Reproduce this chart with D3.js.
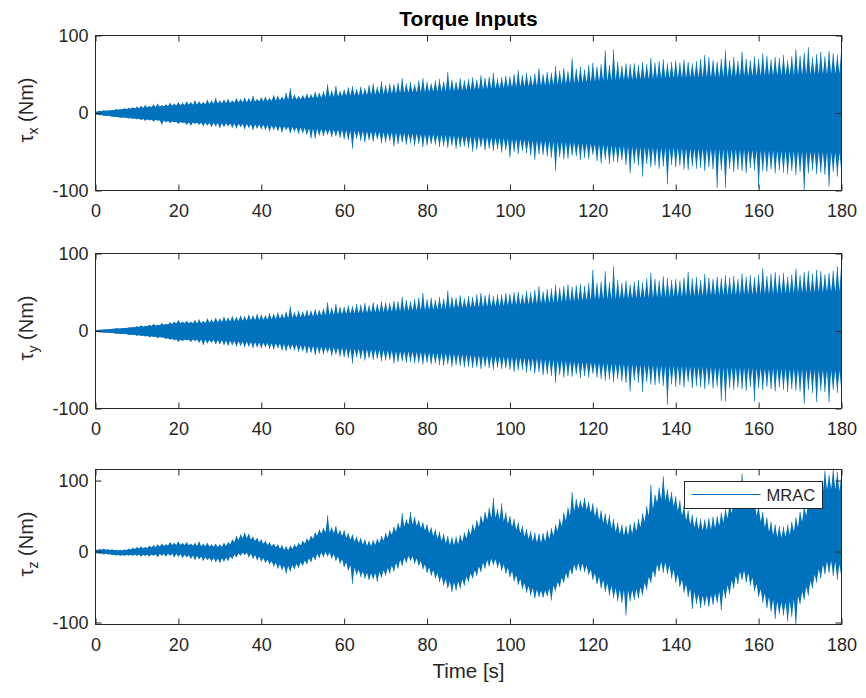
<!DOCTYPE html>
<html>
<head>
<meta charset="utf-8">
<title>Torque Inputs</title>
<script src="https://cdn.jsdelivr.net/npm/d3@7/dist/d3.min.js"></script>
<style>
  html, body { margin: 0; padding: 0; background: #ffffff; }
  svg { display: block; font-family: "Liberation Sans", Arial, Helvetica, sans-serif; }
</style>
</head>
<body>
<svg id="chart" width="866" height="698"></svg>
<script>
// Axis ticks: time in seconds, torque in Nm
const xTickValues = [0, 20, 40, 60, 80, 100, 120, 140, 160, 180];
const yTickValues = [-100, 0, 100];

// Sampling instants: one max/min pair per second, dense core band every 5 s (x, y) or 2 s (z)
const peakTimes = d3.range(0, 181, 1);
const coreTimesXY = d3.range(0, 181, 5);
const coreTimesZ = d3.range(0, 181, 2);

// tau_x: per-second extremes (Nm)
const tauXHigh = [
  2, 3, 3.5, 3, 4, 5, 5, 6, 6.5, 7,
  8, 9, 10, 9, 11, 12, 10, 11, 13, 12,
  14, 13, 15, 14, 16, 15, 14, 17, 16, 19.5,
  16, 17, 18, 16, 19, 18, 20, 19, 22, 18,
  20, 21, 19, 23, 22, 21, 26, 32, 24, 22,
  23, 25, 24, 27, 26, 28, 37, 29, 35, 28,
  30, 33, 35, 31, 34, 32, 36, 38, 34, 41,
  36, 38, 37, 39, 45, 38, 40, 37, 42, 45,
  40, 38, 42, 44, 41, 53, 43, 40, 45, 42,
  44, 46, 43, 48.5, 45, 47, 52, 44, 46, 48,
  47, 50, 55, 49, 52, 48, 51, 57.6, 50, 53,
  52, 60.6, 55, 58, 54, 70.6, 57, 60, 56, 62,
  65, 60, 63, 81, 62, 82, 66, 61, 64, 63,
  64, 62, 66, 63, 71, 65, 67, 69, 64, 66,
  68, 65, 69, 66, 64, 67, 70, 75, 72, 68,
  66, 70, 81, 68, 72, 67, 79, 70, 68, 73,
  70, 77, 74, 69, 72, 71, 75, 68, 73, 82,
  74, 78, 85, 72, 76, 79, 73, 80, 77, 75,
  86
];
const tauXLow = [
  -2, -3, -3.5, -4, -4.5, -5, -6, -5.5, -7, -7.5,
  -8, -9, -10, -9.5, -11, -10, -15, -12, -13, -12,
  -14, -13, -15, -16, -14, -15, -17, -16, -18, -17,
  -19.5, -18, -17, -19, -20, -18, -21, -19, -22, -20,
  -21, -22, -24, -22, -23, -25, -22, -26, -24, -27,
  -26, -28, -33, -33, -29, -30, -28, -31, -30, -32,
  -34, -35, -46, -33, -36, -38, -35, -37, -34, -39,
  -38, -36, -43, -40, -38, -41, -39, -42, -40, -44,
  -42, -40, -41, -44, -43, -45, -42, -46, -44, -43,
  -45, -50, -47, -44, -48, -46, -49, -47, -51, -48,
  -57.6, -50, -53, -49, -52, -55, -60.6, -53, -54, -56,
  -58, -75, -57, -60, -59, -55, -56, -61, -58, -60,
  -54, -62, -65, -60, -66, -63, -64, -61, -67, -78,
  -65, -68, -82, -66, -70, -68, -72, -69, -92, -67,
  -70, -68, -73, -74, -69, -72, -71, -75, -70, -73,
  -96.5, -74, -96.5, -72, -76, -73, -75, -78, -71, -74,
  -96, -75, -76, -73, -78, -74, -77, -79, -75, -80,
  -76, -100, -78, -74, -79, -77, -80, -95, -76, -82,
  -78
];
// tau_x: dense core band (Nm), every 5 s
const tauXCoreHigh = [1.5, 4, 6, 8, 10, 11, 12.5, 13.5, 15, 16.5, 18, 20, 22, 23, 24.5, 26, 27, 28, 29.5,
  31, 33, 34.5, 36, 38, 40, 42, 43, 44, 45, 45.5, 46, 47, 48, 48.5, 49, 50, 51];
const tauXCoreLow = [-1.5, -5, -7, -9, -11.5, -12.5, -13, -14, -15, -17, -19, -21, -22, -23.5, -25, -26, -27.5, -28.5, -30,
  -31.5, -33, -35, -36.5, -38, -40, -42, -43.5, -44.5, -45, -46, -46.5, -47, -48, -49, -49.5, -50, -51];

// tau_y: per-second extremes (Nm)
const tauYHigh = [
  1, 1.5, 1.5, 2, 3, 3.5, 3, 4, 4.5, 5,
  6, 7, 6.5, 8, 9, 8, 10, 9, 11, 12,
  14, 12, 13, 12, 14, 15, 13, 16, 15, 17,
  16, 18, 17, 19, 18, 20, 19, 21, 20, 22,
  21, 20, 23, 22, 24, 22, 25, 32, 24, 26,
  25, 27, 26, 28, 27, 29, 37, 30, 35, 31,
  31, 33, 32, 35, 34, 36, 33, 37, 35, 38,
  37, 36, 39, 38, 44, 40, 38, 41, 43, 49,
  41, 43, 40, 44, 42, 52, 44, 43, 46, 42,
  45, 44, 47, 49, 46, 48, 45, 47, 47, 49,
  48, 50, 51, 47, 52, 50, 53, 57.6, 51, 54,
  55, 60, 56, 58, 60, 57, 59, 61, 58, 62,
  79, 62, 64, 77, 63, 83.5, 66, 62, 65, 60,
  64, 66, 63, 68, 75, 67, 65, 70.6, 68, 66,
  67, 65, 69, 76, 68, 70, 66, 73.6, 69, 67,
  70, 68, 72, 69, 71, 67, 74, 70, 72, 69,
  73, 81, 71, 74, 76, 72, 75, 70, 73, 80.5,
  72, 76, 78, 74, 79, 77, 73, 75, 78, 83.5,
  92
];
const tauYLow = [
  -1, -1.5, -2, -2, -2.5, -3.5, -4, -4, -5, -5,
  -6, -6.5, -7, -8, -7.5, -9, -8, -10, -11, -12,
  -14, -13, -12, -14, -13, -15, -18, -16, -15, -17,
  -17, -18, -19, -18, -20, -19, -21, -20, -22, -21,
  -22, -21, -23, -24, -22, -25, -26, -24, -25, -27,
  -26, -29, -28, -31, -29, -30, -28, -32, -30, -33,
  -34, -35, -42, -34, -36, -38, -35, -37, -36, -39,
  -38, -37, -42, -40, -39, -41, -40, -42, -41, -43,
  -41, -43, -42, -44, -45, -43, -46, -44, -45, -47,
  -46, -48, -47, -49, -46, -48, -50, -47, -49, -48,
  -50, -53, -51, -50, -54, -52, -55, -53, -57, -56,
  -58, -67, -57, -60, -58, -59, -56, -61, -58, -60,
  -55, -60, -62, -64, -63, -66, -62, -65, -67, -78,
  -64, -67, -79, -66, -69, -70, -68, -71, -95, -69,
  -72, -70, -73, -66, -74, -71, -73, -75, -70, -74,
  -72, -90, -91, -74, -76, -73, -75, -77, -72, -91,
  -74, -76, -72, -75, -78, -73, -76, -79, -75, -77,
  -78, -94, -76, -80, -92, -77, -79, -92, -76, -80,
  -78
];
// tau_y: dense core band (Nm), every 5 s
const tauYCoreHigh = [1, 3, 5, 7, 10, 10, 11.5, 13, 14.5, 16, 18, 20, 22, 23, 24.5, 26, 27, 28.5, 30,
  31, 33, 34.5, 36, 38, 40, 41, 42, 43, 44, 45, 46, 46.5, 47, 48, 49, 50, 51];
const tauYCoreLow = [-1, -3, -5, -7.5, -11, -11, -12, -13.5, -15, -16.5, -18.5, -20.5, -22, -23.5, -25, -26.5, -27.5, -29, -30.5,
  -32, -33.5, -35, -37, -39, -41, -42, -43, -44, -45, -46, -46.5, -47, -48, -48.5, -49, -50, -51];

// tau_z: per-second extremes (Nm)
const tauZHigh = [
  3, 3.5, 4, 3, 3, 2.5, 2, 3, 4, 5,
  6, 7, 6.5, 8, 9, 10, 11, 10, 13, 12,
  14, 12, 13, 11, 12, 14, 11, 12, 10, 11,
  10, 12, 13, 17, 22, 24, 27, 25, 21, 19,
  17, 15, 13, 11, 10, 9, 7, 8, 10, 12,
  15, 18, 22, 27, 31, 33, 51, 34, 36, 30,
  30, 26, 24, 21, 19, 17, 15, 16, 18, 22,
  26, 30, 35, 40, 54, 45, 56, 49, 44, 41,
  38, 34, 31, 28, 25, 22, 20, 21, 23, 27,
  32, 38, 44, 50, 56, 62, 76, 60, 68, 55,
  50, 46, 41, 36, 32, 29, 27, 25, 26, 30,
  33, 38, 46, 55, 62, 84, 74, 72, 76, 70,
  68, 62, 58, 54, 52, 46, 41, 38, 36, 39,
  42, 46, 54, 64, 94, 80, 90, 106, 88, 84,
  78, 72, 64, 58, 52, 48, 46, 45, 47, 49,
  50, 55, 60, 68, 75, 82, 110, 86, 80, 72,
  64, 56, 48, 42, 38, 36, 35, 38, 42, 48,
  56, 64, 72, 82, 92, 100, 114, 108, 115.6, 112,
  110
];
const tauZLow = [
  -3, -3.5, -4, -4, -5, -5.5, -6, -6, -5.5, -6,
  -6, -7, -6, -7, -6, -8, -6, -7, -6, -8,
  -7, -9, -8, -10, -12, -11, -13, -12, -14, -15,
  -16, -14, -13, -10, -8, -6, -5, -8, -10, -12,
  -14, -16, -18, -21, -24, -26, -31, -28, -25, -23,
  -20, -18, -15, -12, -9, -8, -7, -10, -13, -17,
  -22, -27, -46, -33, -36, -38, -40, -39, -43, -37,
  -34, -31, -28, -24, -20, -16, -13, -17, -20, -25,
  -30, -34, -38, -43, -48, -52, -57, -55, -52, -48,
  -43, -38, -34, -29, -24, -21, -19, -23, -27, -31,
  -36, -42, -47, -53, -58, -62, -66, -64, -65, -63,
  -69, -56, -50, -44, -38, -32, -27, -28, -29, -33,
  -40, -46, -52, -57, -62, -66, -70, -72, -90, -70,
  -68, -66, -62, -54, -44, -36, -28, -30, -32, -38,
  -44, -50, -58, -64, -81, -74, -80, -76, -78, -75,
  -72, -83, -66, -60, -52, -46, -40, -44, -48, -56,
  -64, -72, -80, -85, -95, -88, -90, -98.6, -92, -102.8,
  -74, -68, -62, -52, -44, -38, -32, -30, -34, -40,
  -38
];
// tau_z: dense core band (Nm), every 2 s
const tauZCoreHigh = [
  2, 2.5, 2, 1, 2.5, 4, 4.5, 6, 7.5, 9, 9.5, 9, 8, 7.5, 7, 6, 8.5, 15, 20, 16,
  12, 8.5, 5, 1, 4.5, 10, 16, 24, 28, 25, 21, 15, 11, 7, 10, 17, 26, 34, 39, 35,
  28, 20, 13, 8, 11, 21, 32, 43, 49, 44, 37, 28, 19, 13, 12, 19, 32, 47, 60, 61,
  52, 42, 35, 25, 22, 26, 37, 55, 74, 72, 61, 47, 35, 30, 30, 34, 43, 57, 69, 64,
  46, 30, 21, 19, 25, 38, 54, 72, 87, 89, 83
];
const tauZCoreLow = [
  -2, -2.5, -4, -5, -4.5, -4, -4.5, -4, -3.5, -3, -3.5, -5, -6, -7.5, -9, -10, -8.5, -3, -1, -4,
  -8, -12.5, -17, -21, -18.5, -14, -8, -2, 0, -5, -13, -21, -27, -31, -30, -25, -18, -10, -5, -11,
  -20, -28, -37, -44, -41, -33, -24, -13, -9, -16, -25, -36, -47, -53, -56, -51, -40, -27, -16, -17,
  -28, -38, -47, -53, -55, -54, -49, -31, -14, -16, -29, -43, -55, -62, -62, -58, -51, -37, -25, -32,
  -50, -62, -70, -72, -70, -60, -46, -28, -15, -13, -19
];

const BLUE = "#0072BD";
const INK = "#262626";
const plotLeft = 95.5, plotRight = 841.5;

const svg = d3.select("#chart");
const x = d3.scaleLinear().domain([0, 180]).range([plotLeft, plotRight]);

const panels = [
  { sub: "x", top: 35.5, bottom: 190.5, high: tauXHigh, low: tauXLow,
    coreTimes: coreTimesXY, coreHigh: tauXCoreHigh, coreLow: tauXCoreLow, limits: [-100, 100] },
  { sub: "y", top: 253.5, bottom: 408.5, high: tauYHigh, low: tauYLow,
    coreTimes: coreTimesXY, coreHigh: tauYCoreHigh, coreLow: tauYCoreLow, limits: [-100, 100] },
  { sub: "z", top: 469.5, bottom: 624.5, high: tauZHigh, low: tauZLow,
    coreTimes: coreTimesZ, coreHigh: tauZCoreHigh, coreLow: tauZCoreLow,
    limits: [d3.min(tauZLow), d3.max(tauZHigh)] }
];

const defs = svg.append("defs");

panels.forEach((p, k) => {
  const y = d3.scaleLinear().domain(p.limits).range([p.bottom, p.top]);
  const g = svg.append("g").attr("class", "panel");

  defs.append("clipPath").attr("id", "clip" + k)
    .append("rect")
    .attr("x", plotLeft).attr("y", p.top)
    .attr("width", plotRight - plotLeft).attr("height", p.bottom - p.top);

  const plot = g.append("g").attr("clip-path", `url(#clip${k})`);

  // piecewise-linear edges of the dense core
  const coreHiAt = d3.scaleLinear().domain(p.coreTimes).range(p.coreHigh);
  const coreLoAt = d3.scaleLinear().domain(p.coreTimes).range(p.coreLow);

  // envelope: each second's extreme rises as a tooth from the core edge
  const upper = [], lower = [];
  peakTimes.forEach((t, i) => {
    upper.push([t, p.high[i]]);
    lower.push([t, p.low[i]]);
    if (i < peakTimes.length - 1) {
      const tm = (t + peakTimes[i + 1]) / 2;
      upper.push([tm, coreHiAt(tm)]);
      lower.push([tm, coreLoAt(tm)]);
    }
  });
  const outline = upper.concat(lower.slice().reverse());
  plot.append("path")
    .attr("fill", BLUE)
    .attr("d", d3.line().x(d => x(d[0])).y(d => y(d[1]))(outline) + "Z");

  // thin excursion strokes of each second
  plot.selectAll("line.peak")
    .data(peakTimes)
    .join("line")
    .attr("class", "peak")
    .attr("x1", t => x(t)).attr("x2", t => x(t))
    .attr("y1", (t, i) => y(p.low[i]))
    .attr("y2", (t, i) => y(p.high[i]))
    .attr("stroke", BLUE)
    .attr("stroke-width", 1)
    .attr("stroke-opacity", 0.7);

  // dense core of the oscillation
  const core = p.coreTimes.map((t, i) => ({ t, hi: p.coreHigh[i], lo: p.coreLow[i] }));
  plot.append("path")
    .datum(core)
    .attr("fill", BLUE)
    .attr("d", d3.area().x(d => x(d.t)).y0(d => y(d.lo)).y1(d => y(d.hi)));

  // axes with inward ticks on all four sides
  const styleAxis = sel => {
    sel.select(".domain").remove();
    sel.selectAll(".tick line").attr("stroke", INK);
    sel.selectAll(".tick text").attr("fill", INK).style("font-size", "18px")
      .style("font-family", '"Liberation Sans", Arial, sans-serif');
  };
  g.append("g").attr("transform", `translate(0,${p.bottom})`)
    .call(d3.axisBottom(x).tickValues(xTickValues).tickFormat(d3.format("d"))
      .tickSizeInner(-6).tickSizeOuter(0).tickPadding(14))
    .call(styleAxis);
  g.append("g").attr("transform", `translate(0,${p.top})`)
    .call(d3.axisTop(x).tickValues(xTickValues).tickFormat("")
      .tickSizeInner(-6).tickSizeOuter(0))
    .call(styleAxis);
  g.append("g").attr("transform", `translate(${plotLeft},0)`)
    .call(d3.axisLeft(y).tickValues(yTickValues).tickFormat(d => String(d))
      .tickSizeInner(-6).tickSizeOuter(0).tickPadding(7))
    .call(styleAxis);
  g.append("g").attr("transform", `translate(${plotRight},0)`)
    .call(d3.axisRight(y).tickValues(yTickValues).tickFormat("")
      .tickSizeInner(-6).tickSizeOuter(0))
    .call(styleAxis);

  g.append("rect")
    .attr("x", plotLeft).attr("y", p.top)
    .attr("width", plotRight - plotLeft).attr("height", p.bottom - p.top)
    .attr("fill", "none").attr("stroke", INK).attr("stroke-width", 1);

  // y label: tau with subscript
  const cy = (p.top + p.bottom) / 2 - 3;
  const lbl = g.append("text")
    .attr("transform", `translate(33,${cy}) rotate(-90)`)
    .attr("text-anchor", "middle")
    .attr("fill", INK)
    .style("font-size", "20px");
  lbl.append("tspan").text("\u03C4");
  lbl.append("tspan").attr("dy", 5).style("font-size", "14px").text(p.sub);
  lbl.append("tspan").attr("dy", -5).text(" (Nm)");

  if (k === 0) {
    svg.append("text")
      .attr("x", (plotLeft + plotRight) / 2).attr("y", 26)
      .attr("text-anchor", "middle").attr("fill", "#000")
      .style("font-size", "21px").style("font-weight", "bold")
      .text("Torque Inputs");
  }

  if (k === panels.length - 1) {
    svg.append("text")
      .attr("x", (plotLeft + plotRight) / 2).attr("y", 678)
      .attr("text-anchor", "middle").attr("fill", INK)
      .style("font-size", "20.5px")
      .text("Time [s]");

    // legend
    const lg = g.append("g").attr("transform", "translate(684.5,481.5)");
    lg.append("rect").attr("width", 138).attr("height", 27)
      .attr("fill", "#fff").attr("stroke", INK).attr("stroke-width", 1);
    lg.append("line").attr("x1", 7).attr("x2", 76).attr("y1", 13).attr("y2", 13)
      .attr("stroke", BLUE).attr("stroke-width", 1.2);
    lg.append("text").attr("x", 82).attr("y", 19)
      .attr("fill", INK).style("font-size", "16.5px").text("MRAC");
  }
});
</script>
</body>
</html>
